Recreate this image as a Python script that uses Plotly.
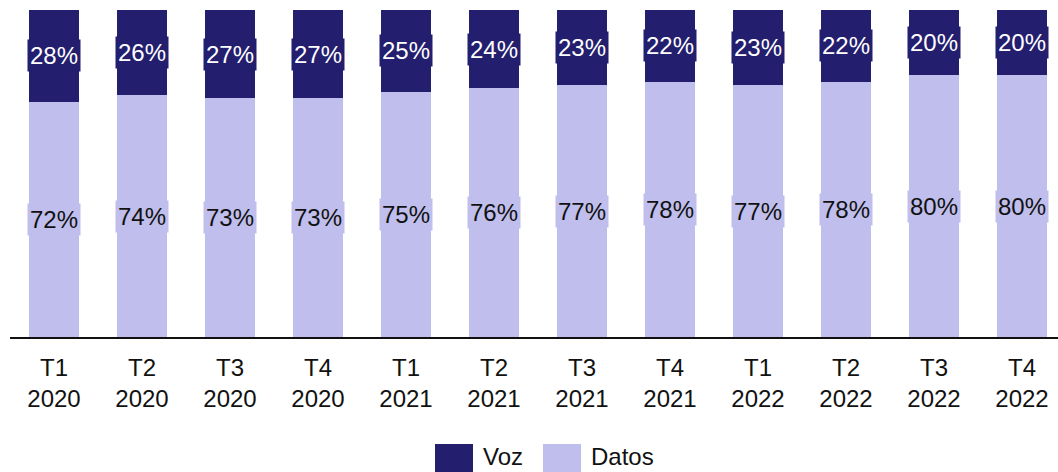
import plotly.graph_objects as go

# Quarterly share of mobile traffic (%), voice vs data
quarters = ["T1<br>2020", "T2<br>2020", "T3<br>2020", "T4<br>2020",
            "T1<br>2021", "T2<br>2021", "T3<br>2021", "T4<br>2021",
            "T1<br>2022", "T2<br>2022", "T3<br>2022", "T4<br>2022"]
voz = [28, 26, 27, 27, 25, 24, 23, 22, 23, 22, 20, 20]
datos = [72, 74, 73, 73, 75, 76, 77, 78, 77, 78, 80, 80]
series_names = ["Voz", "Datos"]

C_VOZ = "#231E6E"
C_DATOS = "#BFBEEC"
FONT = "Liberation Sans, Arial, sans-serif"
FS = 24

x = list(range(len(quarters)))

fig = go.Figure()
fig.add_trace(go.Bar(x=x, y=datos, name=series_names[1], marker_color=C_DATOS,
                     marker_line_width=0, width=0.56, showlegend=False))
fig.add_trace(go.Bar(x=x, y=voz, name=series_names[0], marker_color=C_VOZ,
                     marker_line_width=0, width=0.56, showlegend=False))

# Value labels on boxes filled with the segment colour
for i in x:
    fig.add_annotation(x=i, y=datos[i] / 2, xref="x", yref="y",
                       text=f"{datos[i]}%", showarrow=False,
                       font=dict(family=FONT, size=FS, color="#111111"),
                       bgcolor=C_DATOS, borderpad=2)
    fig.add_annotation(x=i, y=datos[i] + voz[i] / 2, xref="x", yref="y",
                       text=f"{voz[i]}%", showarrow=False,
                       font=dict(family=FONT, size=FS, color="white"),
                       bgcolor=C_VOZ, borderpad=2)

# Legend drawn as swatches + labels below the axis
W, L = 1048, 10
H, T = 327, 10


def px_x(p):
    return (p - L) / W


def px_y(p):
    return (T + H - p) / H


legend_items = [(series_names[0], C_VOZ, 435), (series_names[1], C_DATOS, 543)]
for name, col, x0 in legend_items:
    fig.add_shape(type="rect", xref="paper", yref="paper",
                  x0=px_x(x0), x1=px_x(x0 + 38), y0=px_y(444), y1=px_y(472),
                  fillcolor=col, line_width=0)
    fig.add_annotation(xref="paper", yref="paper", x=px_x(x0 + 47), y=px_y(471),
                       xanchor="left", yanchor="bottom", text=name, showarrow=False,
                       font=dict(family=FONT, size=FS, color="#111111"),
                       borderpad=0)

fig.update_layout(
    barmode="stack",
    width=1058, height=472,
    margin=dict(l=L, r=0, t=T, b=472 - T - H),
    plot_bgcolor="white", paper_bgcolor="white",
    bargap=0.44,
    font=dict(family=FONT, size=FS, color="#111111"),
)
fig.update_xaxes(tickmode="array", tickvals=x, ticktext=quarters,
                 range=[-0.5, -0.5 + W / 88.0],
                 showline=True, linecolor="#111111", linewidth=2,
                 ticks="outside", ticklen=8, tickcolor="rgba(0,0,0,0)",
                 tickfont=dict(family=FONT, size=FS, color="#111111"),
                 showgrid=False, zeroline=False)
fig.update_yaxes(range=[0, 100], visible=False, showgrid=False, zeroline=False)

fig.write_html("out.html")
